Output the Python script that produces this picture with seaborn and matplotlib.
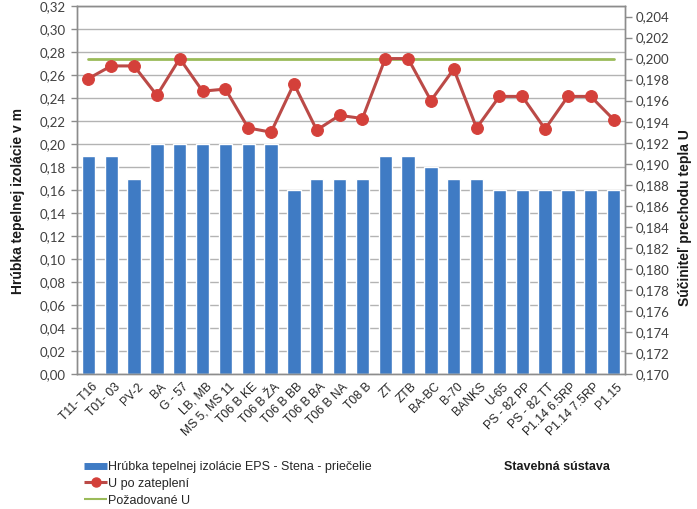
import numpy as np
import pandas as pd
import matplotlib
matplotlib.use("Agg")
import matplotlib.pyplot as plt
import matplotlib.ticker as mticker
import matplotlib.transforms as mtransforms
from matplotlib.lines import Line2D
import seaborn as sns

# Building systems (panel construction types)
systems = [
    "T11- T16", "T01- 03", "PV-2", "BA", "G - 57", "LB, MB", "MS 5, MS 11",
    "T06 B KE", "T06 B ŽA", "T06 B BB", "T06 B BA", "T06 B NA", "T08 B",
    "ZT", "ZTB", "BA-BC", "B-70", "BANKS", "U-65", "PS - 82 PP",
    "PS - 82 TT", "P1.14 6.5RP", "P1.14 7.5RP", "P1.15",
]

# EPS insulation thickness on the facade wall [m]
thickness = [
    0.19, 0.19, 0.17, 0.20, 0.20, 0.20, 0.20, 0.20, 0.20, 0.16, 0.17, 0.17,
    0.17, 0.19, 0.19, 0.18, 0.17, 0.17, 0.16, 0.16, 0.16, 0.16, 0.16, 0.16,
]

# Heat transfer coefficient after insulation
u_after = [
    0.1981, 0.1993, 0.1993, 0.1965, 0.2000, 0.1969, 0.1971, 0.1934,
    0.1930, 0.1976, 0.1932, 0.1946, 0.1943, 0.2000, 0.2000, 0.1960,
    0.1990, 0.1934, 0.1964, 0.1964, 0.1933, 0.1964, 0.1964, 0.1942,
]

# Required heat transfer coefficient
u_required = [0.200] * len(systems)

label_bar = "Hrúbka tepelnej izolácie EPS - Stena - priečelie"
label_u = "U po zateplení"
label_req = "Požadované U"

df = pd.DataFrame({
    "system": systems,
    "thickness": thickness,
    "u_after": u_after,
    "u_required": u_required,
})
df["pos"] = df.index

BLUE = "#3f7bc4"
RED_LINE = "#bb4a47"
RED_MARK = "#d4403a"
GREEN = "#9bbb59"
GRID = "#b3b3b3"
FRAME = "#8c8c8c"

sns.set_theme(style="white")
plt.rcParams["font.family"] = ["Liberation Sans", "DejaVu Sans"]

fig = plt.figure(figsize=(6.97, 5.09), dpi=100)
fig.subplots_adjust(left=77 / 697, right=625 / 697, top=1 - 6 / 509, bottom=1 - 374 / 509)
ax = fig.add_subplot(111)

sns.barplot(data=df, x="system", y="thickness", color=BLUE, saturation=1,
            width=0.59, ax=ax, zorder=2)

ax.set_ylim(0, 0.32)
ax.set_xlim(-0.5, len(systems) - 0.5)
ax.yaxis.set_major_locator(mticker.MultipleLocator(0.02))
ax.yaxis.set_major_formatter(mticker.FuncFormatter(lambda v, p: f"{v:.2f}".replace(".", ",")))
ax.grid(axis="y", color=GRID, linewidth=1, zorder=0)
ax.set_axisbelow(True)

ax2 = ax.twinx()
sns.lineplot(data=df, x="pos", y="u_required", color=GREEN, linewidth=2.0, ax=ax2, zorder=3)
sns.lineplot(data=df, x="pos", y="u_after", color=RED_LINE, linewidth=2.2, marker="o",
             markersize=8.5, markerfacecolor=RED_MARK, markeredgecolor=RED_MARK, ax=ax2, zorder=4)
ax2.set_ylim(0.170, 0.205)
ax2.yaxis.set_major_locator(mticker.FixedLocator(np.round(np.arange(0.170, 0.2041, 0.002), 3)))
ax2.yaxis.set_major_formatter(mticker.FuncFormatter(lambda v, p: f"{v:.3f}".replace(".", ",")))
ax2.set_xlim(-0.5, len(systems) - 0.5)

# axis frame
for a in (ax, ax2):
    for s in a.spines.values():
        s.set_color(FRAME)
        s.set_linewidth(1)
ax.spines["bottom"].set_color("#a0a0a0")

tick_family = ["Lato", "DejaVu Sans"]
ax.tick_params(axis="y", which="major", length=4, color=FRAME, width=1, pad=4)
ax2.tick_params(axis="y", which="major", length=5, color=FRAME, width=1, pad=3)
for lab in ax.get_yticklabels() + ax2.get_yticklabels():
    lab.set_fontfamily(tick_family)
    lab.set_fontsize(9.5)
    lab.set_color("#404040")

# category labels and boundary ticks
ax.set_xticks(range(len(systems)))
ax.set_xticklabels(systems, rotation=45, ha="right", va="center", rotation_mode="anchor",
                   fontsize=8.7, color="#262626")
ax.tick_params(axis="x", which="major", length=0, pad=8)
ax.set_xticks(np.arange(-0.5, len(systems), 1), minor=True)
ax.tick_params(axis="x", which="minor", length=4, color="#d6a86a", width=1)
shift = mtransforms.ScaledTranslation(7 / 100, 0, fig.dpi_scale_trans)
for lab in ax.get_xticklabels():
    lab.set_transform(lab.get_transform() + shift)

ax.set_xlabel("")
ax.set_ylabel("")
ax2.set_xlabel("")
ax2.set_ylabel("")
ax2.tick_params(axis="x", length=0)

fig.text(18 / 697, 1 - 201 / 509, "Hrúbka tepelnej izolácie v m", rotation=90,
         ha="center", va="center", fontsize=10, fontweight="bold", color="#1a1a1a")
fig.text(685 / 697, 1 - 218 / 509, "Súčiniteľ prechodu tepla U", rotation=90,
         ha="center", va="center", fontsize=10, fontweight="bold", color="#1a1a1a")
fig.text(557 / 697, 1 - 467 / 509, "Stavebná sústava", ha="center", va="center",
         fontsize=9, fontweight="bold", color="#1a1a1a")

handles = [
    Line2D([], [], color=BLUE, linewidth=5, solid_capstyle="butt"),
    Line2D([], [], color=RED_LINE, linewidth=2.2, marker="o", markersize=6.5,
           markerfacecolor=RED_MARK, markeredgecolor=RED_MARK, solid_capstyle="butt"),
    Line2D([], [], color=GREEN, linewidth=1.5, solid_capstyle="butt"),
]
fig.legend(handles, [label_bar, label_u, label_req], loc="upper left",
           bbox_to_anchor=(84 / 697, 1 - 461 / 509), frameon=False, fontsize=9,
           handlelength=1.85, handletextpad=0.1, labelspacing=0.38, borderaxespad=0,
           borderpad=0)

fig.savefig("out.png", dpi=100, facecolor="white")
